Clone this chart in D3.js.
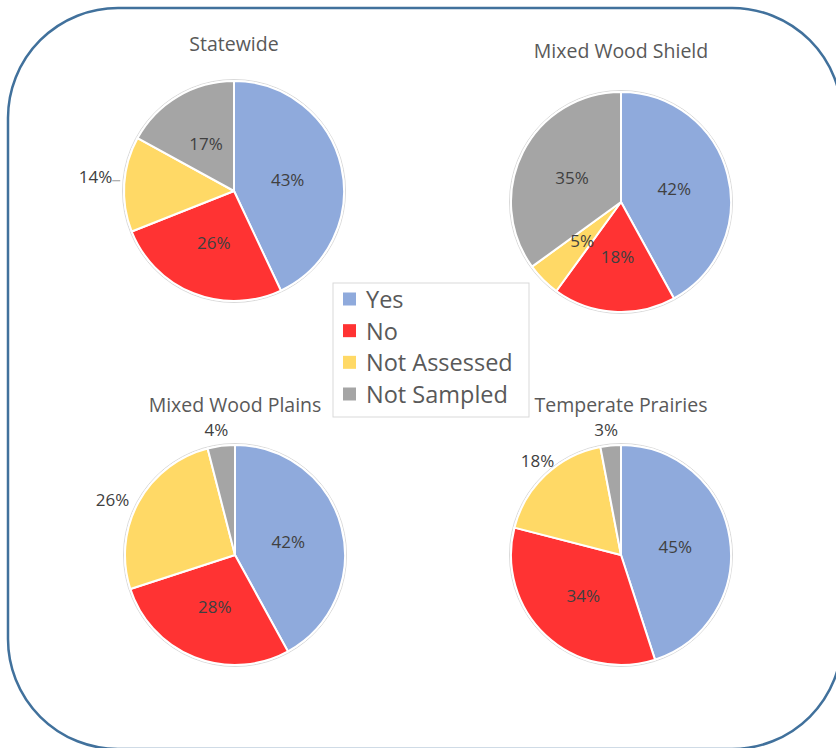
<!DOCTYPE html>
<html>
<head>
<meta charset="utf-8">
<script src="https://cdn.jsdelivr.net/npm/d3@7/dist/d3.min.js"></script>
<style>
  html, body { margin: 0; padding: 0; background: #ffffff; }
  svg { display: block; }
  text { font-family: "Open Sans", "Noto Sans", sans-serif; }
</style>
</head>
<body>
<div id="chart"></div>
<script>
// ---- data ----
const categories = ["Yes", "No", "Not Assessed", "Not Sampled"];
const regions = ["Statewide", "Mixed Wood Shield", "Mixed Wood Plains", "Temperate Prairies"];
const statewide = [43, 26, 14, 17];
const mixedWoodShield = [42, 18, 5, 35];
const mixedWoodPlains = [42, 28, 26, 4];
const temperatePrairies = [45, 34, 18, 3];
const seriesValues = [statewide, mixedWoodShield, mixedWoodPlains, temperatePrairies];
const colors = ["#8FAADC", "#FF3333", "#FFD966", "#A5A5A5"];

// ---- layout ----
const W = 836, H = 748;
const R = 110;
const layout = [
  { cx: 234, cy: 191, titleY: 51, outside: [2], leader: [2] },
  { cx: 621, cy: 202, titleY: 58, outside: [], leader: [] },
  { cx: 235, cy: 555, titleY: 412, outside: [2, 3], leader: [] },
  { cx: 621, cy: 555, titleY: 412, outside: [2, 3], leader: [] }
];

const svg = d3.select("#chart").append("svg")
  .attr("width", W).attr("height", H);

svg.append("rect").attr("width", W).attr("height", H).attr("fill", "#ffffff");

// rounded frame
svg.append("rect")
  .attr("x", 8).attr("y", 8)
  .attr("width", 834).attr("height", 741)
  .attr("rx", 110).attr("ry", 110)
  .attr("fill", "none")
  .attr("stroke", "#41719C")
  .attr("stroke-width", 2.5);

const color = d3.scaleOrdinal().domain(categories).range(colors);
const pie = d3.pie().sort(null).value(d => d.value);
const arc = d3.arc().innerRadius(0).outerRadius(R);

regions.forEach((name, i) => {
  const L = layout[i];
  const data = categories.map((c, j) => ({ cat: c, value: seriesValues[i][j] }));
  const total = d3.sum(data, d => d.value);
  const g = svg.append("g").attr("transform", `translate(${L.cx},${L.cy})`);

  svg.append("text")
    .attr("x", L.cx).attr("y", L.titleY)
    .attr("text-anchor", "middle")
    .attr("font-size", 19.5)
    .attr("fill", "#595959")
    .text(name);

  g.append("circle").attr("r", R + 1.5)
    .attr("fill", "none").attr("stroke", "#d9d9d9").attr("stroke-width", 1);

  const arcs = pie(data);
  g.selectAll("path.slice").data(arcs).enter().append("path")
    .attr("class", "slice")
    .attr("d", arc)
    .attr("fill", d => color(d.data.cat))
    .attr("stroke", "#ffffff")
    .attr("stroke-width", 2)
    .attr("stroke-linejoin", "round");

  arcs.forEach((a, j) => {
    const pct = Math.round(a.data.value / total * 100) + "%";
    const t = g.append("text")
      .attr("font-size", 17)
      .attr("fill", "#404040")
      .attr("text-anchor", "middle")
      .attr("dominant-baseline", "central")
      .text(pct);
    if (L.outside.includes(j)) {
      const mid = (a.startAngle + a.endAngle) / 2;
      const dx = Math.sin(mid), dy = -Math.cos(mid);
      const bb = t.node().getBBox();
      const px = dx * (R + 6), py = dy * (R + 6);
      let x, y;
      if (L.leader.includes(j)) {
        x = px - 6 - bb.width / 2;
        y = py - 7;
        g.append("line")
          .attr("x1", px - 6).attr("y1", py - 3)
          .attr("x2", px + 2).attr("y2", py - 3)
          .attr("stroke", "#a6a6a6").attr("stroke-width", 1.2);
      } else if (Math.abs(dx) >= Math.abs(dy)) {
        x = px + Math.sign(dx) * (bb.width / 2 + 4);
        y = py;
      } else {
        x = px - 4;
        y = py + Math.sign(dy) * 10;
      }
      t.attr("x", x).attr("y", y);
    } else {
      const c = arc.centroid(a);
      t.attr("x", c[0]).attr("y", c[1]);
    }
  });
});

// legend
const lg = svg.append("g");
lg.append("rect")
  .attr("x", 333).attr("y", 283)
  .attr("width", 196).attr("height", 134)
  .attr("fill", "#ffffff")
  .attr("stroke", "#d9d9d9").attr("stroke-width", 1);
const ly = d3.scalePoint().domain(categories).range([299, 394]);
categories.forEach(c => {
  lg.append("rect")
    .attr("x", 343).attr("y", ly(c) - 6.5)
    .attr("width", 13).attr("height", 13)
    .attr("fill", color(c));
  lg.append("text")
    .attr("x", 366).attr("y", ly(c))
    .attr("dominant-baseline", "central")
    .attr("font-size", 23.5)
    .attr("fill", "#595959")
    .text(c);
});
</script>
</body>
</html>
